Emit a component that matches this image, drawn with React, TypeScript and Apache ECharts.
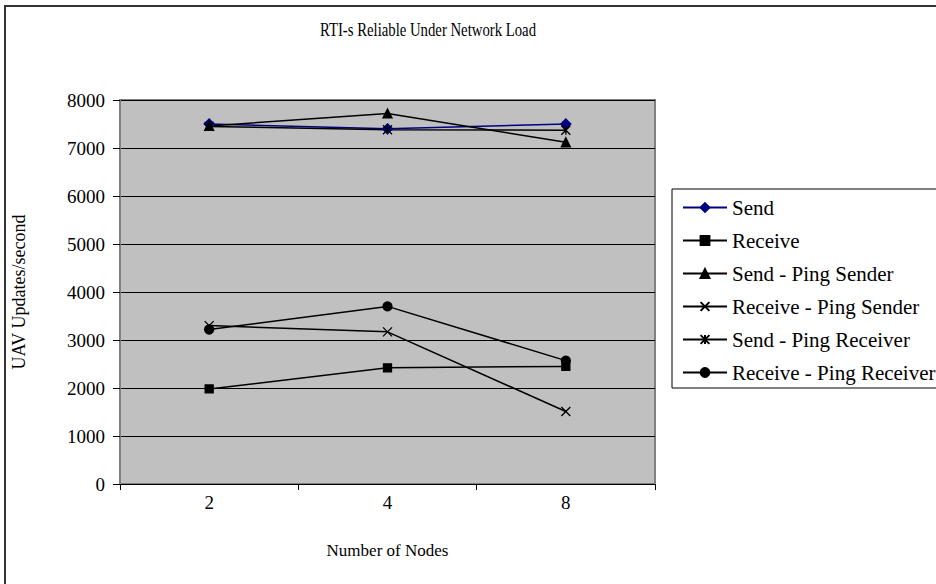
import React, { useEffect, useRef } from "react";
import * as echarts from "echarts";

const categories = ["2", "4", "8"];
const sendValues = [7500, 7400, 7500];
const receiveValues = [1980, 2420, 2450];
const sendPingSenderValues = [7460, 7720, 7120];
const receivePingSenderValues = [3300, 3170, 1510];
const sendPingReceiverValues = [7450, 7380, 7370];
const receivePingReceiverValues = [3220, 3700, 2570];
const seriesNames = [
  "Send",
  "Receive",
  "Send - Ping Sender",
  "Receive - Ping Sender",
  "Send - Ping Receiver",
  "Receive - Ping Receiver",
];

const FONT = "Liberation Serif";
const X_SYMBOL = "path://M0,0L10,10M10,0L0,10";
const STAR_SYMBOL = "path://M0,0L10,10M10,0L0,10M5,0L5,10";

export default function App() {
  const ref = useRef<HTMLDivElement>(null);
  useEffect(() => {
    document.body.style.margin = "0";
    const chart = echarts.init(ref.current!, null, { renderer: "svg" });
    const mk = (name: string, data: number[], symbol: string, size: number, color: string) => ({
      name,
      type: "line",
      data,
      symbol,
      symbolSize: size,
      showSymbol: true,
      lineStyle: { color, width: 1.5 },
      itemStyle: { color, borderColor: color, borderWidth: 1.3 },
      emphasis: { disabled: true },
    });
    chart.setOption({
      animation: false,
      backgroundColor: "#ffffff",
      textStyle: { fontFamily: FONT },
      graphic: [
        {
          type: "rect",
          shape: { x: 5, y: 6, width: 1000, height: 1000 },
          style: { fill: "none", stroke: "#333333", lineWidth: 2 },
          silent: true,
        },
        {
          type: "text",
          x: 428,
          y: 30,
          scaleX: 0.82,
          style: {
            text: "RTI-s Reliable Under Network Load",
            textAlign: "center",
            textVerticalAlign: "middle",
            fontFamily: FONT,
            fontSize: 18,
            fill: "#000",
          },
        },
      ],
      grid: {
        left: 120,
        right: 281,
        top: 100,
        bottom: 100,
        show: true,
        backgroundColor: "#c0c0c0",
        borderColor: "#808080",
        borderWidth: 2,
      },
      legend: {
        orient: "vertical",
        left: 672,
        top: 189,
        padding: [8, 40, 5, 10],
        backgroundColor: "#ffffff",
        borderColor: "#000000",
        borderWidth: 1,
        itemWidth: 44,
        itemHeight: 11,
        itemGap: 12,
        data: seriesNames,
        textStyle: { fontFamily: FONT, fontSize: 21, color: "#000" },
      },
      xAxis: {
        type: "category",
        data: categories,
        boundaryGap: true,
        axisLine: { show: true, lineStyle: { color: "#000", width: 1 } },
        axisTick: { show: true, length: 6, lineStyle: { color: "#000" } },
        axisLabel: { fontFamily: FONT, fontSize: 19, color: "#000", margin: 9 },
        name: "Number of Nodes",
        nameLocation: "middle",
        nameGap: 58,
        nameTextStyle: { fontFamily: FONT, fontSize: 17, color: "#000" },
      },
      yAxis: {
        type: "value",
        min: 0,
        max: 8000,
        interval: 1000,
        axisLine: { show: true, lineStyle: { color: "#808080", width: 2 } },
        axisTick: { show: true, length: 7, lineStyle: { color: "#000" } },
        splitLine: { show: true, lineStyle: { color: "#000", width: 1 } },
        axisLabel: {
          fontFamily: FONT,
          fontSize: 19,
          color: "#000",
          margin: 15,
          formatter: (v: number) => String(v),
        },
        name: "UAV Updates/second",
        nameLocation: "middle",
        nameRotate: 90,
        nameGap: 92,
        nameTextStyle: { fontFamily: FONT, fontSize: 18, color: "#000" },
      },
      series: [
        mk(seriesNames[0], sendValues, "diamond", 10, "#000080"),
        mk(seriesNames[1], receiveValues, "rect", 8, "#000"),
        mk(seriesNames[2], sendPingSenderValues, "triangle", 9, "#000"),
        mk(seriesNames[3], receivePingSenderValues, X_SYMBOL, 9, "#000"),
        mk(seriesNames[4], sendPingReceiverValues, STAR_SYMBOL, 9, "#000"),
        mk(seriesNames[5], receivePingReceiverValues, "circle", 9, "#000"),
      ],
    });
    return () => chart.dispose();
  }, []);
  return <div ref={ref} style={{ width: 936, height: 584 }} />;
}
